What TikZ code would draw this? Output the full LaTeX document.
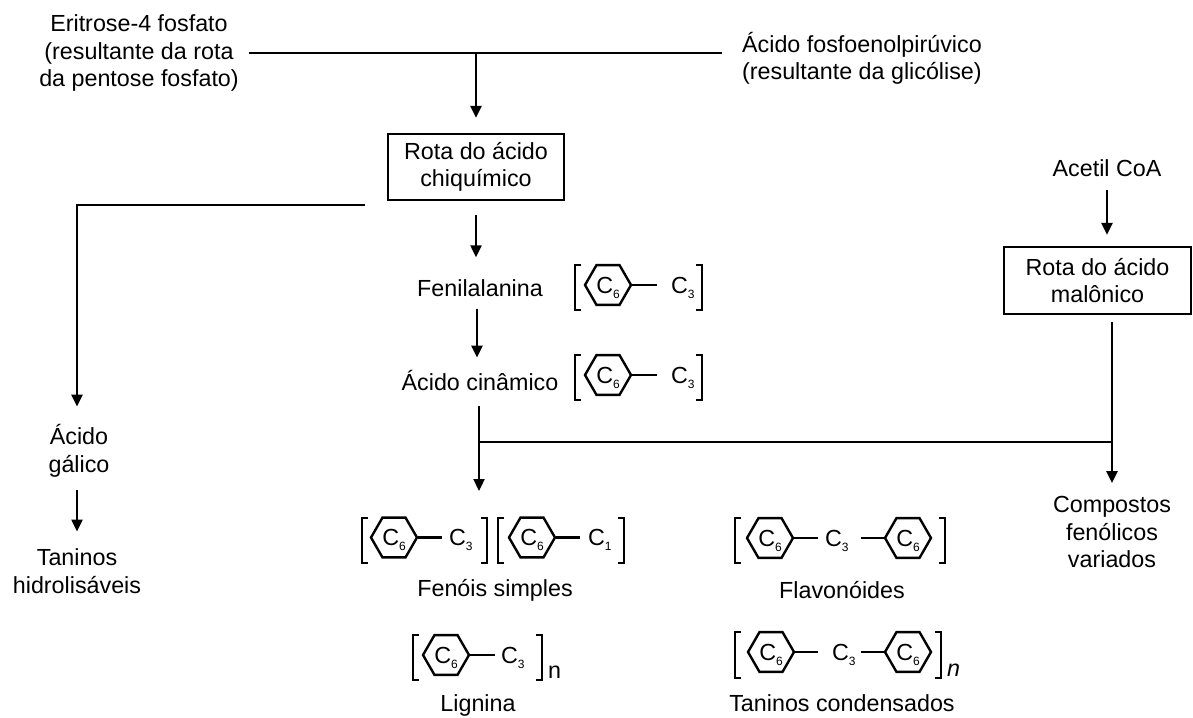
\documentclass[tikz,border=0pt]{standalone}
\usepackage{fontspec}
\setmainfont{Liberation Sans}
\usetikzlibrary{positioning, arrows.meta, shapes.geometric}

\newcommand\csub[1]{\raisebox{-5pt}{\fontsize{12}{12}\selectfont #1}}
\newcommand\carbon[1]{C\csub{#1}}
\newcommand\lbrak[3]{\draw[brak] (#1+6,#2) -- (#1,#2) -- (#1,#3) -- (#1+6,#3);}
\newcommand\rbrak[3]{\draw[brak] (#1-6,#2) -- (#1,#2) -- (#1,#3) -- (#1-6,#3);}
\newcommand\ring[2]{%
  \node[hexring] (#1) at (#2) {};
  \node[chem, anchor=base] at ([yshift=-8pt]#1.center) {\carbon{6}};}

\begin{document}
\begin{tikzpicture}[x=1pt, y=-1pt, line width=2.3pt,
    font=\fontsize{23.3}{27.5}\selectfont,
    txt/.style={align=center, inner sep=0pt},
    pathbox/.style={draw, align=center, inner sep=0pt},
    arr/.style={-{Triangle[length=12pt, width=11pt]}},
    hexring/.style={draw, regular polygon, regular polygon sides=6, minimum size=46pt, inner sep=0pt, line width=2.4pt},
    chem/.style={inner sep=0pt},
    brak/.style={line width=2.3pt}]
    \useasboundingbox (0,0) rectangle (1193,717);

    % sources and pathways
    \node [txt] (eritrose) at (139,53) {Eritrose-4 fosfato\\(resultante da rota\\da pentose fosfato)};
    \node [txt, align=left, anchor=west] (fosfo) at (741,58.5) {Ácido fosfoenolpirúvico\\(resultante da glicólise)};
    \node [pathbox, minimum width=176pt, minimum height=66pt] (chiq) at (476,167) {Rota do ácido\\chiquímico};
    \node [txt] (acetil) at (1107,168) {Acetil CoA};
    \node [pathbox, minimum width=187pt, minimum height=67pt] (malon) at (1097.5,280.5) {Rota do ácido\\malônico};

    % products
    \node [txt] (fenil) at (480,288) {Fenilalanina};
    \node [txt] (cinam) at (480,381) {Ácido cinâmico};
    \node [txt] (galico) at (79,451) {Ácido\\gálico};
    \node [txt] (taninosh) at (77,571) {Taninos\\hidrolisáveis};
    \node [txt] (compostos) at (1112,532) {Compostos\\fenólicos\\variados};
    \node [txt] (fenois) at (495,590) {Fenóis simples};
    \node [txt] (flavon) at (842,590) {Flavonóides};
    \node [txt] (lignina) at (478,705) {Lignina};
    \node [txt] (taninosc) at (842,703) {Taninos condensados};

    \coordinate (gstart) at (365,205);
    \coordinate (fork) at (479,442);
    \coordinate (fenoistop) at (479,491);

    % connectors
    \draw [shorten <=9.5pt, shorten >=19pt] (eritrose.east) -- (eritrose.east -| fosfo.west);
    \draw [arr, shorten >=15pt] (eritrose.east -| chiq.north) -- (chiq.north);
    \draw [arr, shorten <=14pt, shorten >=21pt] (chiq.south) -- (fenil.north -| chiq.south);
    \draw [arr, shorten <=11pt, shorten >=12pt] (fenil.south -| 477,0) -- (cinam.north -| 477,0);
    \draw [arr, shorten <=14pt] (cinam.south -| fork) -- (fenoistop);
    \draw (fork) -- (fork -| compostos);
    \draw [arr, shorten >=17pt] (gstart) -| (galico.north -| 77,0);
    \draw [arr, shorten <=12pt, shorten >=16pt] (galico.south -| 77,0) -- (taninosh.north);
    \draw [arr, shorten <=12pt, shorten >=11pt] (acetil.south) -- (acetil |- malon.north);
    \draw [arr, shorten <=7pt, shorten >=12pt] (malon.south -| compostos) -- (compostos.north);

    % Fenilalanina
    \lbrak{575}{265}{310}
    \ring{fh}{608,285}
    \node [chem, anchor=base west] (fc) at (670,293) {\carbon{3}};
    \draw [shorten >=13pt] (fh.east) -- (fh.east -| fc.west);
    \rbrak{702}{265}{310}

    % Acido cinamico
    \lbrak{575}{355}{400}
    \ring{ch}{608,375}
    \node [chem, anchor=base west] (cc) at (670,383) {\carbon{3}};
    \draw [shorten >=13pt] (ch.east) -- (ch.east -| cc.west);
    \rbrak{702}{355}{400}

    % Fenois simples
    \lbrak{362}{518}{563}
    \ring{sh1}{394,537.5}
    \node [chem, anchor=base west] (sc1) at (448,545.5) {\carbon{3}};
    \draw [shorten >=6pt] (sh1.east) -- (sh1.east -| sc1.west);
    \rbrak{487}{518}{563}
    \lbrak{498}{518}{563}
    \ring{sh2}{532,537.5}
    \node [chem, anchor=base west] (sc2) at (587,545.5) {\carbon{1}};
    \draw [shorten >=7pt] (sh2.east) -- (sh2.east -| sc2.west);
    \rbrak{624}{518}{563}

    % Flavonoides
    \lbrak{735}{518}{563}
    \ring{vh1}{770,538}
    \node [chem, anchor=base west] (vc) at (824,546) {\carbon{3}};
    \ring{vh2}{908,538}
    \draw [shorten >=6pt] (vh1.east) -- (vh1.east -| vc.west);
    \draw [shorten <=11pt] (vh2.west -| vc.east) -- (vh2.west);
    \rbrak{945}{518}{563}

    % Lignina
    \lbrak{413}{635}{680}
    \ring{lh}{446,655}
    \node [chem, anchor=base west] (lc) at (500,663) {\carbon{3}};
    \draw [shorten >=5pt] (lh.east) -- (lh.east -| lc.west);
    \rbrak{542}{635}{680}
    \node [chem, anchor=base west] (ln) at (547,678) {n};

    % Taninos condensados
    \lbrak{735}{632}{678}
    \ring{th1}{771,652}
    \node [chem, anchor=base west] (tc) at (831,660) {\carbon{3}};
    \ring{th2}{908,652}
    \draw [shorten >=13pt] (th1.east) -- (th1.east -| tc.west);
    \draw [shorten <=4pt] (th2.west -| tc.east) -- (th2.west);
    \rbrak{941}{632}{678}
    \node [chem, anchor=base west] (tn) at (946,676) {\itshape n};
\end{tikzpicture}
\end{document}
